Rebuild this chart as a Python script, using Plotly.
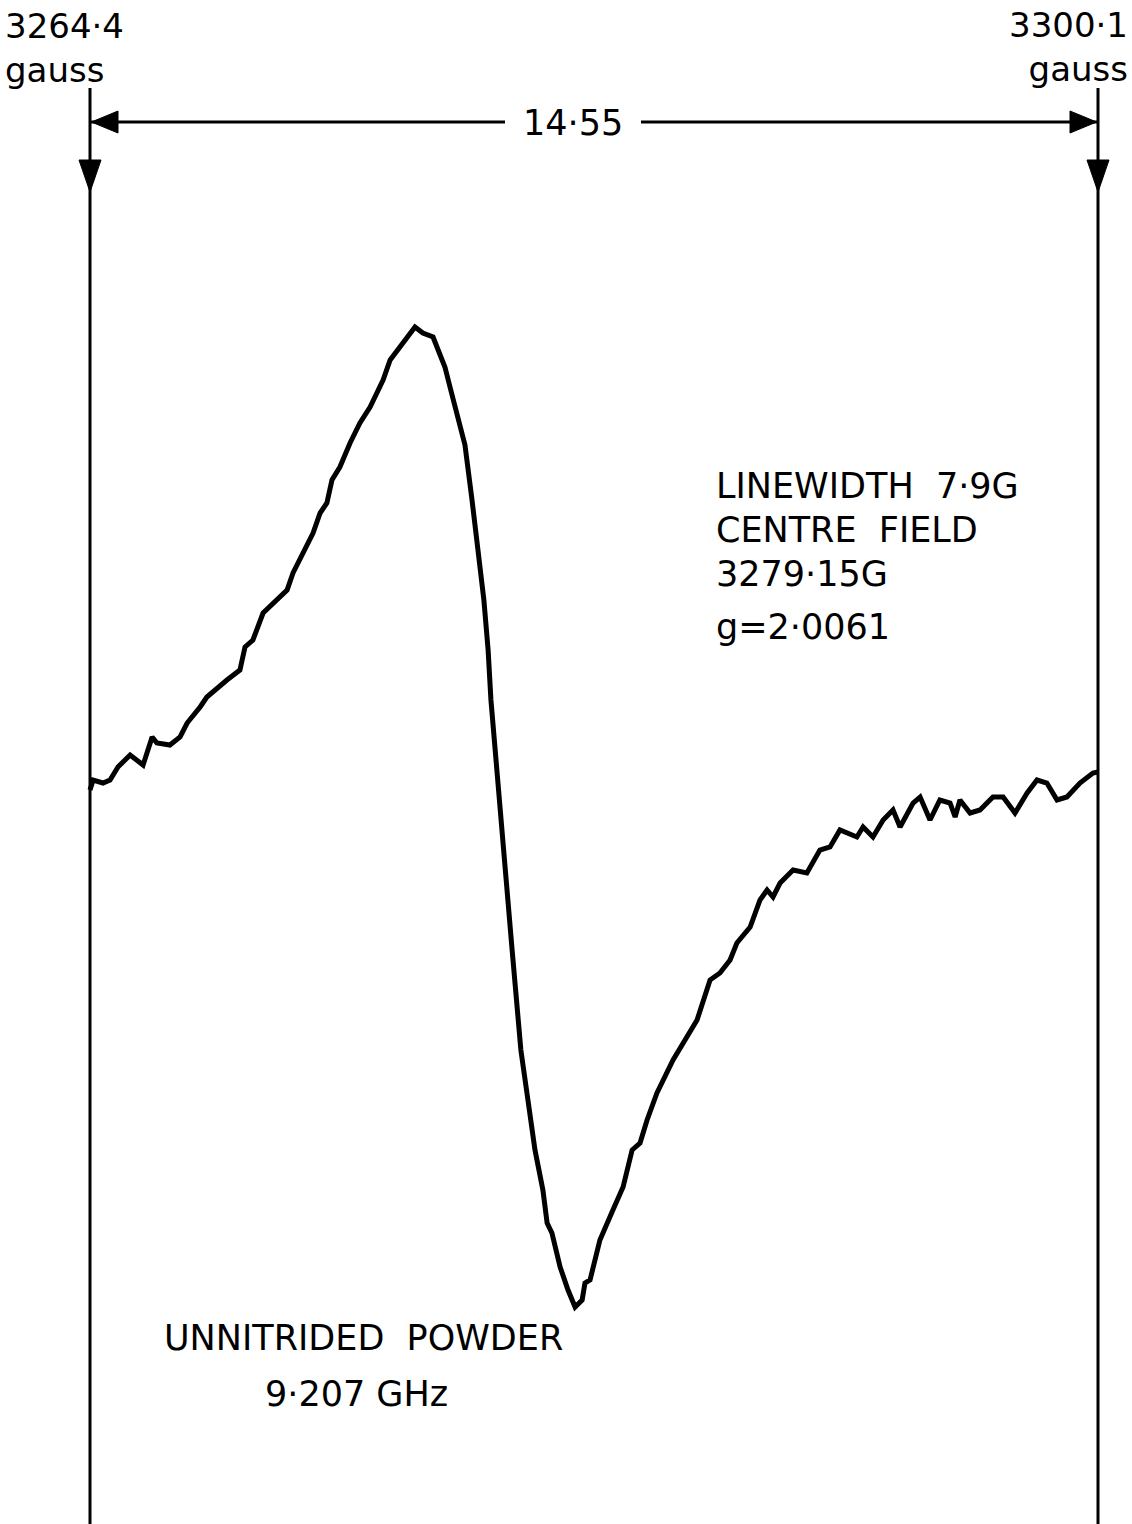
import plotly.graph_objects as go

# ---- data (magnetic field in gauss, derivative signal in arbitrary units) ----
field_gauss = [
    3264.40, 3264.51, 3264.86, 3265.11, 3265.39, 3265.82, 3266.28, 3266.60, 3266.77, 3267.23,
    3267.59, 3267.84, 3268.30, 3268.54, 3269.25, 3269.71, 3269.89, 3270.17, 3270.53, 3270.88,
    3271.38, 3271.59, 3271.94, 3272.30, 3272.55, 3272.79, 3272.97, 3273.25, 3273.61, 3273.96,
    3274.32, 3274.78, 3275.03, 3275.49, 3275.91, 3276.19, 3276.55, 3276.73, 3276.97, 3277.15,
    3277.40, 3277.68, 3277.93, 3278.14, 3278.35, 3278.50, 3278.60, 3278.78, 3278.89, 3279.06,
    3279.20, 3279.35, 3279.49, 3279.66, 3279.91, 3280.16, 3280.44, 3280.59, 3280.76, 3281.05,
    3281.33, 3281.58, 3281.83, 3281.93, 3282.11, 3282.46, 3282.92, 3283.28, 3283.60, 3283.88,
    3284.13, 3284.48, 3285.05, 3285.54, 3285.90, 3286.36, 3286.71, 3287.07, 3287.31, 3287.78,
    3288.13, 3288.38, 3288.59, 3288.84, 3289.30, 3289.79, 3290.25, 3290.61, 3290.96, 3291.56,
    3291.78, 3292.13, 3292.49, 3292.84, 3293.09, 3293.55, 3293.80, 3294.15, 3294.50, 3294.86,
    3295.04, 3295.21, 3295.57, 3295.92, 3296.38, 3296.74, 3297.16, 3297.59, 3297.94, 3298.29,
    3298.65, 3299.00, 3299.46, 3299.92, 3300.10,
]
signal = [
    0.0, 1.0, 0.7, 1.0, 2.3, 3.5, 2.5, 5.3, 4.7, 4.5,
    5.3, 6.7, 8.3, 9.3, 11.0, 12.0, 14.3, 15.0, 17.7, 18.7,
    20.0, 21.7, 23.7, 25.7, 27.7, 28.7, 31.0, 32.3, 34.7, 36.7,
    38.3, 41.0, 43.0, 44.7, 46.3, 45.7, 45.3, 44.0, 42.3, 40.3,
    37.7, 34.5, 29.0, 24.0, 19.0, 14.0, 9.0, 3.0, -1.0, -6.0,
    -11.0, -16.0, -21.0, -26.0, -31.0, -36.0, -40.0, -43.3, -44.3, -47.7,
    -50.0, -51.7, -51.0, -49.3, -49.0, -45.0, -42.0, -39.7, -36.0, -35.3,
    -33.0, -30.3, -27.0, -24.7, -23.0, -19.0, -18.3, -17.0, -15.3, -13.7,
    -11.0, -10.0, -10.7, -9.3, -8.0, -8.3, -6.0, -5.7, -4.0, -4.7,
    -3.7, -4.7, -3.0, -2.0, -3.7, -1.3, -0.7, -3.0, -1.0, -1.3,
    -2.7, -1.0, -2.3, -2.0, -0.7, -0.7, -2.3, -0.3, 1.0, 0.7,
    -1.0, -0.7, 0.7, 1.7, 1.8,
]

sweep_start = 3264.4
sweep_end = 3300.1
sweep_label = "14·55"
start_label = "3264·4<br>gauss"
end_label = "3300·1<br>gauss"
info_lines = ["LINEWIDTH\u00a0 7·9G", "CENTRE\u00a0 FIELD", "3279·15G", "g=2·0061"]
sample_lines = ["UNNITRIDED\u00a0 POWDER", "9·207 GHz"]

# ---- layout helpers ----
W, H = 1132, 1524
GPP = (sweep_end - sweep_start) / 1008.0  # gauss per pixel
x_lo = sweep_start - 90 * GPP
x_hi = sweep_start + (W - 90) * GPP


def py(pix):
    return 1 - pix / H


def px(pix):
    return pix / W


FONT = "DejaVu Sans"
FS = 35
fig = go.Figure()
fig.add_trace(go.Scatter(x=field_gauss, y=signal, mode="lines",
                         line=dict(color="black", width=5), hoverinfo="skip"))

shapes = []
for xv in (sweep_start, sweep_end):
    shapes.append(dict(type="line", xref="x", yref="paper", x0=xv, x1=xv,
                       y0=0, y1=py(88), line=dict(color="black", width=3)))
    hw = 11 * GPP
    shapes.append(dict(type="path", xref="x", yref="paper",
                       path=f"M {xv-hw} {py(160)} L {xv+hw} {py(160)} L {xv} {py(192)} Z",
                       fillcolor="black", line=dict(color="black", width=1)))

y_dim = py(122)
mid = sweep_start + (573 - 90) * GPP
half_gap = 68 * GPP
shapes.append(dict(type="line", xref="x", yref="paper", x0=sweep_start, x1=mid - half_gap,
                   y0=y_dim, y1=y_dim, line=dict(color="black", width=3)))
shapes.append(dict(type="line", xref="x", yref="paper", x0=mid + half_gap, x1=sweep_end,
                   y0=y_dim, y1=y_dim, line=dict(color="black", width=3)))
al = 28 * GPP
shapes.append(dict(type="path", xref="x", yref="paper",
                   path=f"M {sweep_start+0.05} {y_dim} L {sweep_start+al} {py(111)} L {sweep_start+al} {py(133)} Z",
                   fillcolor="black", line=dict(color="black", width=1)))
shapes.append(dict(type="path", xref="x", yref="paper",
                   path=f"M {sweep_end-0.05} {y_dim} L {sweep_end-al} {py(111)} L {sweep_end-al} {py(133)} Z",
                   fillcolor="black", line=dict(color="black", width=1)))

annotations = []


def label(text, xpix, ypix, anchor, size=FS, align="left"):
    annotations.append(dict(text=text, xref="paper", yref="paper", x=px(xpix), y=py(ypix),
                            xanchor=anchor, yanchor="middle", showarrow=False, align=align,
                            font=dict(family=FONT, size=size, color="black")))


label(start_label, 3, 48, "left", size=34, align="left")
label(end_label, 1130, 47, "right", size=34, align="right")
annotations.append(dict(text=sweep_label, xref="x", yref="paper", x=mid, y=py(123),
                        xanchor="center", yanchor="middle", showarrow=False,
                        font=dict(family=FONT, size=FS, color="black")))
for t, yp in zip(info_lines, [486, 530, 574, 627]):
    label(t, 714, yp, "left")
label(sample_lines[0], 363, 1338, "center")
label(sample_lines[1], 356, 1394, "center")

fig.update_layout(
    width=W, height=H, margin=dict(l=0, r=0, t=0, b=0),
    paper_bgcolor="white", plot_bgcolor="white", showlegend=False,
    xaxis=dict(range=[x_lo, x_hi], visible=False, fixedrange=True),
    yaxis=dict(range=[-73.4, 79.0], visible=False, fixedrange=True),
    shapes=shapes, annotations=annotations,
)
fig.write_html("out.html", config={"displayModeBar": False},
               post_script="document.body.style.margin='0';document.body.style.overflow='hidden';")
